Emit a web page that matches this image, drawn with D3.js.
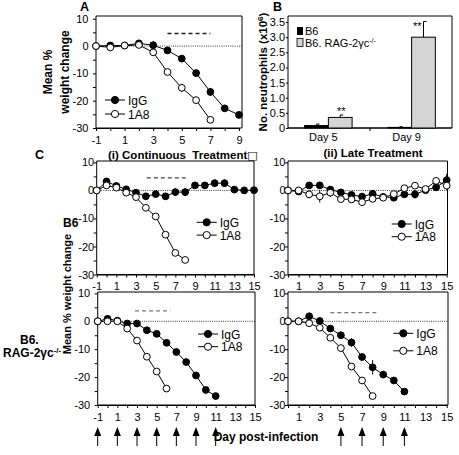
<!DOCTYPE html>
<html><head><meta charset="utf-8">
<script src="https://cdn.jsdelivr.net/npm/d3@7"></script>
<style>body{margin:0;background:#fff}svg{display:block}</style>
</head><body>
<svg id="c" width="459" height="455"></svg>
<script>
// ---------- data ----------
const daysA = [-1,0,1,2,3,4,5,6,7,8,9];
const aIgG  = [0,0.2,0.2,1,0.3,-1.6,-4.6,-9.9,-16.8,-22.8,-25.2];
const aIgGErr = [0,0.3,0.3,0.4,1.5,0.5,0.6,1.3,1.5,0.8,0.6];
const days1A8A = [-1,0,1,2,3,4,5,6,7];
const a1A8  = [0,-0.5,0.2,0.4,-2.3,-9.5,-15.3,-19.8,-27];
const a1A8Err = [0,0.5,0.3,0.5,0.5,1,1.5,1.3,0.8];

const bCats = ["Day 5","Day 9"];
const bB6 = [0.08,0.02];
const bB6Err = [0.05,0.02];
const bRag = [0.35,3.0];
const bRagErr = [0.08,0.52];
const bTicks = [0,0.5,1.0,1.5,2.0,2.5,3.0,3.5];

const daysCont = [-1,0,1,2,3,4,5,6,7,8,9,10,11,12,13,14,15];
const c1IgG = [0,3.2,1.6,0.4,-0.8,-2.1,-1.3,-2.1,-0.6,-0.6,1.8,1.8,2.6,2.6,0.3,0,0.1];
const c1IgGErr = [0,0.8,0.8,0.8,0.6,0.8,0.8,0.6,1.4,1.4,0.8,0.8,1.2,1.2,0.5,0.5,0.5];
const daysC1_1A8 = [-1,0,1,2,3,4,5,6,7,8];
const c1_1A8 = [0,1.8,1,-0.8,-2.4,-6.2,-9.3,-15.8,-22.3,-24.8];
const c1_1A8Err = [0,0.5,0.6,1,0.8,1,0.8,0.5,0.5,0.5];

const daysLate = [0,1,2,3,4,5,6,7,8,9,10,11,12,13,14,15];
const c2IgG = [0,-0.4,1.8,1.8,0.3,-0.7,-1.6,-2.2,-1.2,-2.3,-2.6,-1.4,-1.4,0.1,1.1,3.7];
const c2IgGErr = [0,0.8,0.6,1,0.8,1,0.8,0.8,0.8,0.5,0.8,0.8,1.5,0.5,0.8,2.2];
const c2_1A8 = [0,0,-1.4,-2.1,-0.8,-3.1,-3.2,-4.2,-3,-2.6,-1.3,0.8,1.7,0.5,3.4,1.7];
const c2_1A8Err = [0,1,1.4,2.2,1.6,0.8,0.8,0.8,1,0.8,0.8,0.8,0.5,0.8,0.5,1.5];

const daysC3IgG = [-1,0,1,2,3,4,5,6,7,8,9,10,11];
const c3IgG = [0,0.9,0.2,-0.8,-0.8,-3.2,-4.5,-7.7,-11,-14.6,-19.4,-24.6,-26.8];
const c3IgGErr = [0,0.4,0.3,0.3,0.3,0.4,0.4,0.5,0.5,0.5,0.5,1,0.5];
const daysC3_1A8 = [-1,0,1,2,3,4,5,6];
const c3_1A8 = [0,0,0,-2.6,-6.9,-12.7,-18,-24.1];
const c3_1A8Err = [0,0.3,0.3,0.5,0.5,0.6,0.8,0.8];

const daysC4IgG = [0,1,2,3,4,5,6,7,8,9,10,11];
const c4IgG = [0,0,1.8,0.1,-2.6,-5,-7.6,-12.8,-16.5,-19.1,-21.2,-25.2];
const c4IgGErr = [0,0.5,0.8,0.5,0.5,0.5,1.5,1,2.6,1.2,0.5,0.5];
const daysC4_1A8 = [0,1,2,3,4,5,6,7,8];
const c4_1A8 = [0,0,-0.7,-2.3,-5.9,-9.6,-16.2,-21.2,-26.8];
const c4_1A8Err = [0,0.5,1.2,0.5,0.5,0.5,0.5,0.5,0.5];

const contArrowDays = [-1,1,3,5,7,9,11];
const lateArrowDays = [5,7,9,11];

// ---------- drawing ----------
const FONT = "Arial, 'Liberation Sans', Helvetica, sans-serif";
const svg = d3.select("#c").style("font-family", FONT);

function zip(days, vals, errs){ return days.map((d,i)=>({d, v: vals[i], e: errs ? errs[i] : 0})); }

function panel(cfg){
  const x = d3.scaleLinear().domain(cfg.xDomain).range([cfg.x0, cfg.x1]);
  const y = d3.scaleLinear().domain(cfg.yDomain).range([cfg.yBottom, cfg.yTop]);
  const g = svg.append("g");
  g.append("path").attr("d", `M${cfg.x0},${cfg.yTop}H${cfg.frameRight}V${cfg.yBottom}H${cfg.x0}`)
    .attr("fill","none").attr("stroke","#000").attr("stroke-width",1);
  const xt = d3.range(cfg.xDomain[0], cfg.xDomain[1]+1);
  const xa = d3.axisBottom(x).tickValues(xt).tickSize(3).tickSizeOuter(0)
    .tickFormat(v => cfg.xLabels.includes(v) ? String(v) : "");
  const gx = g.append("g").attr("transform",`translate(0,${cfg.yBottom})`).call(xa);
  gx.selectAll("text").attr("font-size",11).attr("font-family",FONT).attr("fill","#000").attr("dy","0.9em");
  gx.selectAll("line,path").attr("stroke","#000");
  const ya = d3.axisLeft(y).tickValues([-30,-25,-20,-15,-10,-5,0,5,10]).tickSize(3).tickSizeOuter(0)
    .tickPadding(cfg.yPad)
    .tickFormat(v => v % 10 === 0 ? String(v) : "");
  const gy = g.append("g").attr("transform",`translate(${cfg.x0},0)`).call(ya);
  gy.select(".domain").attr("d", `M0,${cfg.yBottom}V${cfg.yTop}`);
  gy.selectAll("text").attr("font-size",11).attr("font-family",FONT).attr("fill","#000");
  gy.selectAll("line,path").attr("stroke","#000");
  g.append("line").attr("x1",cfg.x0).attr("x2",cfg.frameRight).attr("y1",y(0)).attr("y2",y(0))
    .attr("stroke","#000").attr("stroke-width",0.8).attr("stroke-dasharray","1,1.2");
  if (cfg.dashed){
    g.append("line").attr("x1",x(cfg.dashed[0])).attr("x2",x(cfg.dashed[1]))
      .attr("y1",y(cfg.dashed[2])).attr("y2",y(cfg.dashed[2]))
      .attr("stroke",cfg.dashColor||"#333").attr("stroke-width",1.3).attr("stroke-dasharray","4,3");
  }
  const line = d3.line().x(p=>x(p.d)).y(p=>y(p.v));
  cfg.series.forEach(s=>{
    const pts = zip(s.days, s.vals, s.errs);
    g.append("path").attr("d", line(pts)).attr("fill","none").attr("stroke","#000").attr("stroke-width",1);
    g.selectAll(null).data(pts.filter(p=>p.e>0)).enter().append("line")
      .attr("x1",p=>x(p.d)).attr("x2",p=>x(p.d)).attr("y1",p=>y(p.v+p.e)).attr("y2",p=>y(p.v-p.e))
      .attr("stroke","#000").attr("stroke-width",1);
    g.selectAll(null).data(pts).enter().append("circle")
      .attr("cx",p=>x(p.d)).attr("cy",p=>y(p.v)).attr("r",3.4)
      .attr("fill", s.filled ? "#000" : "#fff").attr("stroke","#000").attr("stroke-width",1);
  });
  if (cfg.legend){
    const [lx, ly, gap] = cfg.legend;
    [["IgG",true],["1A8",false]].forEach(([t,f],i)=>{
      const yy = ly + i*gap;
      g.append("line").attr("x1",lx).attr("x2",lx+20).attr("y1",yy).attr("y2",yy).attr("stroke","#000");
      g.append("circle").attr("cx",lx+10).attr("cy",yy).attr("r",3.6)
        .attr("fill", f ? "#000":"#fff").attr("stroke","#000");
      g.append("text").attr("x",lx+23).attr("y",yy+4.5).attr("font-size",12).text(t);
    });
  }
  return {x, y};
}

// Panel A
panel({x0:96, x1:239, xDomain:[-1,9], yTop:16, yBottom:128, yDomain:[-30,11], frameRight:242, yPad:4.5,
  xLabels:[-1,1,3,5,7,9], dashed:[4,7,4.6], dashColor:"#222",
  series:[{days:daysA, vals:aIgG, errs:aIgGErr, filled:true},{days:days1A8A, vals:a1A8, errs:a1A8Err, filled:false}],
  legend:[105,100,14]});

// Panel C(i) top
panel({x0:96.7, x1:254, xDomain:[-1,15], yTop:161, yBottom:274.5, yDomain:[-30,10.5], frameRight:254, yPad:-0.5,
  xLabels:[-1,1,3,5,7,9,11,13,15], dashed:[4.1,8.2,4.5], dashColor:"#444",
  series:[{days:daysCont, vals:c1IgG, errs:c1IgGErr, filled:true},{days:daysC1_1A8, vals:c1_1A8, errs:c1_1A8Err, filled:false}],
  legend:[196.7,222.3,12.8]});

// Panel C(ii) top
panel({x0:288, x1:446.7, xDomain:[0,15], yTop:161, yBottom:274.5, yDomain:[-30,10.5], frameRight:447.5, yPad:-0.5,
  xLabels:[1,3,5,7,9,11,13,15],
  series:[{days:daysLate, vals:c2IgG, errs:c2IgGErr, filled:true},{days:daysLate, vals:c2_1A8, errs:c2_1A8Err, filled:false}],
  legend:[391.7,224,12.7]});

// Panel C(i) bottom
const p3 = panel({x0:97.7, x1:255, xDomain:[-1,15], yTop:292, yBottom:405, yDomain:[-30,10.5], frameRight:255, yPad:4.5,
  xLabels:[-1,1,3,5,7,9,11,13,15], dashed:[2.8,6.4,3.7], dashColor:"#777",
  series:[{days:daysC3IgG, vals:c3IgG, errs:c3IgGErr, filled:true},{days:daysC3_1A8, vals:c3_1A8, errs:c3_1A8Err, filled:false}],
  legend:[198,334,12.7]});

// Panel C(ii) bottom
const p4 = panel({x0:288, x1:446.7, xDomain:[0,15], yTop:292, yBottom:405, yDomain:[-30,10.5], frameRight:448, yPad:-0.5,
  xLabels:[1,3,5,7,9,11,13,15], dashed:[4,8.6,3.1], dashColor:"#777",
  series:[{days:daysC4IgG, vals:c4IgG, errs:c4IgGErr, filled:true},{days:daysC4_1A8, vals:c4_1A8, errs:c4_1A8Err, filled:false}],
  legend:[393.3,333.3,17.5]});

function arrows(days, x){
  days.forEach(d=>{
    const cx = x(d);
    svg.append("line").attr("x1",cx).attr("x2",cx).attr("y1",434).attr("y2",446).attr("stroke","#000").attr("stroke-width",1);
    svg.append("path").attr("d",`M${cx},427L${cx-3.5},436L${cx+3.5},436Z`).attr("fill","#000");
  });
}
arrows(contArrowDays, p3.x);
arrows(lateArrowDays, p4.x);

// Panel B
{
  const x = d3.scaleBand().domain(bCats).range([288,452]).paddingInner(0.43).paddingOuter(0.2);
  const y = d3.scaleLinear().domain([0,3.7]).range([128,16]);
  const g = svg.append("g");
  g.append("path").attr("d","M288,16H452V128H288").attr("fill","none").attr("stroke","#000");
  const gy = g.append("g").attr("transform","translate(288,0)")
    .call(d3.axisLeft(y).tickValues(bTicks).tickSize(2).tickSizeOuter(0).tickPadding(1)
      .tickFormat(v=> v===0 ? "0" : d3.format(".1f")(v)));
  gy.select(".domain").attr("d","M0,128V16");
  gy.selectAll("text").attr("font-size",11).attr("font-family",FONT);
  const gx = g.append("g").attr("transform","translate(0,128)")
    .call(d3.axisBottom(x).tickSize(0).tickSizeOuter(0).tickPadding(5));
  gx.select(".domain").attr("d","M288,0H452");
  gx.selectAll("text").attr("font-size",11).attr("font-family",FONT).attr("dx","-5");
  const mid = (x(bCats[0])+x.bandwidth() + x(bCats[1]))/2;
  g.append("line").attr("x1",mid).attr("x2",mid).attr("y1",128).attr("y2",131).attr("stroke","#000");
  const bw = x.bandwidth()/2;
  bCats.forEach((c,i)=>{
    const bars = [[bB6[i], bB6Err[i], "#000", x(c)], [bRag[i], bRagErr[i], "#d4d4d4", x(c)+bw]];
    bars.forEach(([v,e,col,bx])=>{
      const cx = bx + bw/2;
      g.append("line").attr("x1",cx).attr("x2",cx).attr("y1",y(v)).attr("y2",y(v+e)).attr("stroke","#000");
      g.append("line").attr("x1",cx).attr("x2",cx+3).attr("y1",y(v+e)).attr("y2",y(v+e)).attr("stroke","#000");
      g.append("rect").attr("x",bx).attr("y",y(v)).attr("width",bw).attr("height",128-y(v))
        .attr("fill",col).attr("stroke","#000").attr("stroke-width",1);
    });
    const cx = x(c)+bw*1.5;
    const top = y(bRag[i]+bRagErr[i]);
    g.append("text").attr("x", i===0 ? cx+1 : cx-2).attr("y", i===0 ? top+0 : top+9)
      .attr("text-anchor", i===0 ? "middle" : "end").attr("font-size",11).text("**");
  });
  g.append("rect").attr("x",297).attr("y",27).attr("width",6).attr("height",8).attr("fill","#000");
  g.append("rect").attr("x",297).attr("y",38.5).attr("width",6).attr("height",8).attr("fill","#d4d4d4").attr("stroke","#000").attr("stroke-width",0.8);
  g.append("text").attr("x",305).attr("y",35).attr("font-size",11).text("B6");
  const t = g.append("text").attr("x",305).attr("y",46.5).attr("font-size",11);
  t.append("tspan").text("B6. RAG-2\u03b3c");
  t.append("tspan").attr("font-size",7).attr("dy",-4).text("-/-");
  const yl = g.append("text").attr("transform","translate(267,72) rotate(-90)").attr("text-anchor","middle")
    .attr("font-size",11.5).attr("font-weight","bold");
  yl.append("tspan").text("No. neutrophils (x10");
  yl.append("tspan").attr("font-size",8).attr("dy",-4).text("6");
  yl.append("tspan").attr("dy",4).text(")");
}

function txt(x,y,s,o={}){
  return svg.append("text").attr("x",x).attr("y",y).attr("font-size",o.size||12)
    .attr("font-weight",o.bold===false?"normal":"bold").attr("text-anchor",o.anchor||"start").text(s);
}
txt(80,11,"A",{size:12.5});
txt(273,11,"B",{size:12.5});
txt(35,159,"C",{size:12.5});
svg.append("text").attr("transform","translate(52,72) rotate(-90)").attr("text-anchor","middle")
  .attr("font-size",12).attr("font-weight","bold").text("Mean %");
svg.append("text").attr("transform","translate(69,72) rotate(-90)").attr("text-anchor","middle")
  .attr("font-size",12).attr("font-weight","bold").text("weight change");
svg.append("text").attr("transform","translate(71,294) rotate(-90)").attr("text-anchor","middle")
  .attr("font-size",11).attr("font-weight","bold").text("Mean % weight change");
const ct = txt(108,159,"(i) Continuous  Treatment",{size:11.5});
ct.attr("xml:space","preserve").style("white-space","pre");
ct.append("tspan").attr("font-family","'DejaVu Sans', sans-serif").attr("font-weight","normal").attr("font-size",11).text("\u25a1");
txt(373,157,"(ii) Late Treatment",{anchor:"middle",size:11.5});
txt(63,227,"B6");
txt(20,344,"B6.");
const rl = txt(3,357,"RAG-2\u03b3c");
rl.append("tspan").attr("font-size",8).attr("dy",-4).text("-/-");
txt(266,441,"Day post-infection",{anchor:"middle"});
</script>
</body></html>
